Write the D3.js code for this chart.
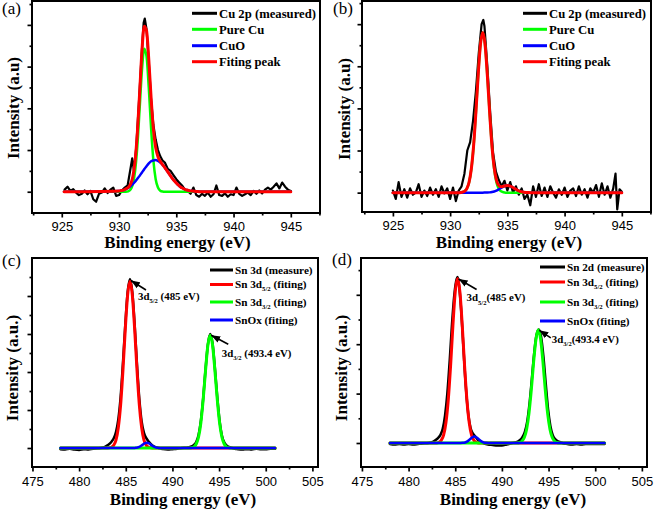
<!DOCTYPE html>
<html><head><meta charset="utf-8">
<script src="https://cdn.jsdelivr.net/npm/d3@7"></script>
<style>body{margin:0;background:#fff}svg{display:block}</style>
</head><body>
<svg id="chart" width="660" height="511"></svg>
<script>
// ---------------- DATA ----------------
const cuTicks = [925, 930, 935, 940, 945];
const cuMinorTicks = [922.5, 927.5, 932.5, 937.5, 942.5, 947.5];
const snTicks = [475, 480, 485, 490, 495, 500, 505];
const snMinorTicks = [477.5, 482.5, 487.5, 492.5, 497.5, 502.5];
const yMajor = [0, 1, 2, 3, 4];
const yMinor = [0.5, 1.5, 2.5, 3.5, 4.5];

const cuLegend = ["Cu 2p (measured)", "Pure Cu", "CuO", "Fiting peak"];
const snLegendC = ["Sn 3d (measure)", "Sn 3d|5/2| (fiting)", "Sn 3d|3/2| (fiting)", "SnOx (fiting)"];
const snLegendD = ["Sn 2d (measure)", "Sn 3d|5/2| (fiting)", "Sn 3d|3/2| (fiting)", "SnOx (fiting)"];

// Panel (a)
const aMeasured = [[925.25,0.05],[925.5,0.12],[925.75,0.02],[926.0,0.06],[926.25,-0.02],[926.5,-0.08],[926.75,-0.05],[927.0,0.03],[927.25,-0.06],[927.5,0.02],[927.75,-0.18],[928.0,-0.24],[928.25,-0.05],[928.5,-0.02],[928.75,0.08],[929.0,-0.03],[929.25,0.05],[929.5,0.10],[929.75,-0.10],[930.0,-0.08],[930.25,0.03],[930.5,0.10],[930.75,0.15],[931.0,0.55],[931.15,0.80],[931.3,0.50],[931.5,1.05],[931.75,2.20],[932.0,3.40],[932.15,4.05],[932.25,4.15],[932.4,3.90],[932.6,3.10],[932.8,2.20],[933.0,1.60],[933.2,1.25],[933.4,1.00],[933.6,0.85],[933.8,0.75],[934.0,0.70],[934.25,0.55],[934.5,0.50],[934.75,0.40],[935.0,0.30],[935.25,0.22],[935.5,0.15],[935.75,0.05],[936.0,0.02],[936.25,-0.05],[936.5,0.10],[936.75,-0.08],[937.0,-0.12],[937.25,-0.05],[937.5,-0.10],[937.75,-0.02],[938.0,-0.12],[938.25,-0.06],[938.5,0.15],[938.75,-0.08],[939.0,-0.10],[939.25,-0.04],[939.5,-0.12],[939.75,-0.06],[940.0,-0.08],[940.25,0.10],[940.5,-0.05],[940.75,-0.10],[941.0,-0.06],[941.25,-0.02],[941.5,-0.08],[941.75,0.02],[942.0,-0.05],[942.25,0.03],[942.5,-0.04],[942.75,0.05],[943.0,0.10],[943.25,0.05],[943.5,0.12],[943.75,0.20],[944.0,0.08],[944.25,0.22],[944.5,0.12],[944.75,0.05],[945.0,0.02]];
const aFitX = [925.2,930.0,930.2,930.4,930.6,930.8,931.0,931.2,931.4,931.6,931.8,932.0,932.2,932.4,932.6,932.8,933.0,933.2,933.4,933.6,933.8,934.0,934.2,934.4,934.6,934.8,935.0,935.2,935.4,935.6,935.8,936.0,936.2,936.4,936.6,936.8,937.0,945.0];
const aPureCu = [0,0,0,0,0,0.01,0.05,0.175,0.49,1.10,1.99,2.91,3.43,3.25,2.48,1.52,0.75,0.30,0.10,0.025,0.005,0,0,0,0,0,0,0,0,0,0,0,0,0,0,0,0,0];
const aCuO = [0,0.02,0.03,0.04,0.065,0.094,0.13,0.18,0.24,0.31,0.38,0.46,0.54,0.61,0.68,0.73,0.75,0.76,0.74,0.70,0.65,0.58,0.50,0.42,0.34,0.27,0.21,0.155,0.11,0.08,0.05,0.035,0.02,0.015,0.01,0.005,0,0];
const aFitPeak = [0,0.02,0.03,0.04,0.07,0.10,0.18,0.355,0.73,1.41,2.37,3.37,3.97,3.86,3.16,2.25,1.50,1.06,0.84,0.73,0.65,0.58,0.50,0.42,0.34,0.27,0.21,0.155,0.11,0.08,0.05,0.035,0.02,0.015,0.01,0.005,0,0];

// Panel (b)
const bMeasured = [[925.0,0.05],[925.25,-0.15],[925.5,0.25],[925.75,-0.10],[926.0,0.08],[926.25,-0.12],[926.5,0.10],[926.75,-0.05],[927.0,0.00],[927.25,0.20],[927.5,-0.10],[927.75,0.05],[928.0,-0.08],[928.25,0.12],[928.5,-0.05],[928.75,0.08],[929.0,-0.10],[929.25,0.15],[929.5,-0.02],[929.75,0.10],[930.0,-0.15],[930.25,0.12],[930.5,-0.20],[930.75,0.05],[931.0,0.15],[931.25,0.45],[931.5,1.00],[931.75,1.20],[932.0,1.70],[932.25,2.40],[932.5,3.30],[932.75,4.00],[932.9,4.10],[933.0,3.95],[933.25,3.00],[933.5,1.90],[933.75,0.95],[934.0,0.50],[934.25,0.30],[934.5,0.15],[934.75,0.28],[935.0,0.05],[935.25,0.25],[935.5,0.00],[935.75,0.15],[936.0,-0.05],[936.25,0.10],[936.5,-0.15],[936.75,-0.05],[937.0,-0.30],[937.25,0.15],[937.5,-0.10],[937.75,0.20],[938.0,-0.08],[938.25,0.12],[938.5,-0.10],[938.75,0.15],[939.0,0.00],[939.25,-0.12],[939.5,0.08],[939.75,-0.05],[940.0,0.12],[940.25,-0.10],[940.5,0.05],[940.75,0.10],[941.0,-0.08],[941.25,0.15],[941.5,-0.05],[941.75,0.08],[942.0,-0.12],[942.25,0.10],[942.5,0.00],[942.75,0.18],[943.0,-0.10],[943.25,0.22],[943.5,-0.05],[943.75,0.15],[944.0,-0.12],[944.25,0.10],[944.45,0.45],[944.6,-0.40],[944.8,0.08],[945.0,0.02]];
const bFitX = [925.0,930.45,930.65,930.85,931.05,931.25,931.45,931.65,931.85,932.05,932.25,932.45,932.65,932.85,933.05,933.25,933.45,933.65,933.85,934.05,934.25,934.45,934.65,934.85,935.05,935.25,935.45,935.65,935.85,936.05,936.25,936.45,936.65,936.85,937.05,945.0];
const bPureCu = [0,0,0,0,0.01,0.03,0.09,0.24,0.56,1.11,1.90,2.79,3.52,3.80,3.52,2.79,1.90,1.11,0.56,0.24,0.09,0.03,0.01,0,0,0,0,0,0,0,0,0,0,0,0,0];
const bCuO = [0,0,0,0,0,0,0,0,0,0,0,0,0,0,0.001,0.002,0.006,0.014,0.027,0.049,0.078,0.112,0.143,0.165,0.17,0.156,0.128,0.095,0.062,0.037,0.019,0.009,0.004,0.001,0,0];
const bFitPeak = [0,0,0,0,0.01,0.03,0.09,0.24,0.56,1.11,1.90,2.79,3.52,3.80,3.52,2.79,1.91,1.12,0.59,0.29,0.17,0.14,0.15,0.165,0.17,0.156,0.128,0.095,0.062,0.037,0.019,0.009,0.004,0.001,0,0];

// Panel (c)
const cMeasured = [[478.0,-0.03],[478.5,-0.04],[479.0,-0.02],[479.5,-0.04],[480.0,-0.05],[480.5,-0.03],[481.0,-0.04],[481.5,-0.02],[482.0,-0.01],[482.7,0.02],[482.95,0.06],[483.2,0.10],[483.45,0.16],[483.7,0.25],[483.95,0.42],[484.2,0.75],[484.45,1.35],[484.7,2.25],[484.95,3.25],[485.2,4.10],[485.45,4.45],[485.7,4.10],[485.95,3.25],[486.2,2.20],[486.45,1.30],[486.7,0.70],[486.95,0.40],[487.2,0.26],[487.45,0.17],[487.7,0.10],[487.95,0.05],[488.2,0.02],[488.6,0.0],[489.0,-0.03],[489.5,-0.04],[490.0,-0.03],[490.5,-0.02],[491.0,0.0],[491.55,0.01],[491.8,0.02],[492.05,0.04],[492.3,0.08],[492.55,0.16],[492.8,0.34],[493.05,0.72],[493.3,1.32],[493.55,2.08],[493.8,2.72],[494.05,3.00],[494.3,2.75],[494.55,2.10],[494.8,1.35],[495.05,0.72],[495.3,0.33],[495.55,0.15],[495.8,0.07],[496.05,0.03],[496.3,0.01],[496.7,-0.02],[497.0,-0.03],[497.5,-0.04],[498.0,-0.03],[498.5,-0.04],[499.0,-0.02],[499.5,-0.03],[500.0,-0.03],[500.5,-0.02],[501.0,-0.02]];
const cSn52 = [[478,0],[482.95,0],[483.2,0.005],[483.45,0.02],[483.7,0.07],[483.95,0.21],[484.2,0.54],[484.45,1.14],[484.7,2.06],[484.95,3.14],[485.2,4.03],[485.45,4.39],[485.7,4.03],[485.95,3.14],[486.2,2.06],[486.45,1.14],[486.7,0.54],[486.95,0.21],[487.2,0.07],[487.45,0.02],[487.7,0.005],[487.95,0],[501,0]];
const cSn32 = [[478,0],[491.8,0],[492.05,0.008],[492.3,0.03],[492.55,0.105],[492.8,0.29],[493.05,0.67],[493.3,1.29],[493.55,2.05],[493.8,2.71],[494.05,2.97],[494.3,2.71],[494.55,2.05],[494.8,1.29],[495.05,0.67],[495.3,0.29],[495.55,0.105],[495.8,0.03],[496.05,0.008],[496.3,0],[501,0]];
const cSnOx = [[478,0],[485.75,0],[486.0,0.003],[486.25,0.012],[486.5,0.035],[486.75,0.076],[487.0,0.12],[487.25,0.14],[487.5,0.12],[487.75,0.076],[488.0,0.035],[488.25,0.012],[488.5,0.003],[488.75,0],[501,0]];

// Panel (d)
const dMeasured = [[478.0,-0.02],[478.5,-0.03],[479.0,-0.02],[479.5,-0.03],[480.0,-0.02],[480.5,-0.03],[481.0,-0.02],[481.5,-0.01],[482.15,0.0],[482.65,0.03],[482.9,0.06],[483.15,0.10],[483.4,0.16],[483.65,0.28],[483.9,0.55],[484.15,1.00],[484.4,1.65],[484.65,2.40],[484.9,3.00],[485.15,3.32],[485.25,3.36],[485.4,3.20],[485.65,2.65],[485.9,1.85],[486.15,1.10],[486.4,0.58],[486.65,0.30],[486.9,0.19],[487.15,0.13],[487.4,0.07],[487.65,0.03],[488.1,-0.01],[488.5,-0.03],[489.0,-0.04],[489.5,-0.05],[490.0,-0.05],[490.5,-0.03],[491.1,0.0],[491.7,0.03],[491.95,0.06],[492.2,0.12],[492.45,0.22],[492.7,0.42],[492.95,0.78],[493.2,1.28],[493.45,1.80],[493.7,2.18],[493.95,2.30],[494.2,2.15],[494.45,1.75],[494.7,1.20],[494.95,0.68],[495.2,0.34],[495.45,0.16],[495.7,0.08],[495.95,0.04],[496.2,0.02],[496.6,-0.01],[497.0,-0.02],[497.5,-0.03],[498.0,-0.02],[498.5,-0.03],[499.0,-0.02],[499.5,-0.02],[500.0,-0.02],[500.5,-0.02],[501.0,-0.02]];
const dSn52 = [[478,0],[483.0,0],[483.25,0.015],[483.5,0.054],[483.75,0.16],[484.0,0.41],[484.25,0.87],[484.5,1.56],[484.75,2.38],[485.0,3.06],[485.25,3.33],[485.5,3.06],[485.75,2.38],[486.0,1.56],[486.25,0.87],[486.5,0.41],[486.75,0.16],[487.0,0.054],[487.25,0.015],[487.5,0],[501,0]];
const dSn32 = [[478,0],[491.65,0],[491.9,0.01],[492.15,0.037],[492.4,0.11],[492.65,0.28],[492.9,0.60],[493.15,1.075],[493.4,1.64],[493.65,2.10],[493.9,2.29],[494.15,2.10],[494.4,1.64],[494.65,1.075],[494.9,0.60],[495.15,0.28],[495.4,0.11],[495.65,0.037],[495.9,0.01],[496.15,0],[501,0]];
const dSnOx = [[478,0],[485.55,0],[485.8,0.003],[486.05,0.011],[486.3,0.0325],[486.55,0.07],[486.8,0.111],[487.05,0.13],[487.3,0.111],[487.55,0.07],[487.8,0.0325],[488.05,0.011],[488.3,0.003],[488.55,0],[501,0]];

// ---------------- DRAWING ----------------
const svg = d3.select('#chart');
const SERIF = '"Liberation Serif","Times New Roman",serif';
const SANS = '"Liberation Sans",Arial,sans-serif';
const RED = '#ff0000', GREEN = '#00ff00', BLUE = '#0000ff', BLACK = '#000000';

svg.append('defs').append('marker')
  .attr('id', 'arrow').attr('markerUnits', 'userSpaceOnUse')
  .attr('markerWidth', 10).attr('markerHeight', 8)
  .attr('refX', 9).attr('refY', 4).attr('orient', 'auto')
  .append('path').attr('d', 'M0,0.5 L9,4 L0,7.5 Z').attr('fill', '#000');

const zip = (xs, ys) => xs.map((v, i) => [v, ys[i]]);

function addRichText(g, x, y, str, size) {
  const parts = str.split('|');
  const t = g.append('text').attr('x', x).attr('y', y)
    .attr('font-family', SERIF).attr('font-weight', 'bold').attr('font-size', size);
  t.append('tspan').text(parts[0]);
  if (parts.length > 1) {
    t.append('tspan').attr('font-size', size * 0.6).attr('dy', size * 0.28).text(parts[1]);
    t.append('tspan').attr('dy', -size * 0.28).text(parts[2]);
  }
  return t;
}

// font size that makes `str` (bold serif) `target` px wide
function fitSize(str, base, target) {
  const t = addRichText(svg, -1000, -1000, str, base);
  const w = t.node().getComputedTextLength ? t.node().getBBox().width : target;
  t.remove();
  return w > 0 ? base * target / w : base;
}

const cuLegSize = fitSize(cuLegend[0], 13, 97);
const snLegSize = fitSize(snLegendC[0], 11, 78);
const noteSize = fitSize('3d|5/2| (485 eV)', 11, 62);

function drawPanel(p) {
  const g = svg.append('g');
  const x = d3.scaleLinear().domain(p.xDomain).range([p.left, p.right]);
  const y = d3.scaleLinear().domain(p.yDomain).range([p.bottom, p.top]);
  const inY = v => v > p.yDomain[0] && v < p.yDomain[1];
  const inX = v => v > p.xDomain[0] && v < p.xDomain[1];

  const clip = 'clip-' + p.id;
  g.append('clipPath').attr('id', clip).append('rect')
    .attr('x', p.left).attr('y', p.top).attr('width', p.right - p.left).attr('height', p.bottom - p.top);
  const plot = g.append('g').attr('clip-path', `url(#${clip})`);

  p.series.forEach(s => {
    const line = d3.line().x(d => x(d[0])).y(d => y(d[1]))
      .curve(s.smooth ? d3.curveMonotoneX : d3.curveLinear);
    plot.append('path').datum(s.data).attr('d', line)
      .attr('fill', 'none').attr('stroke', s.color).attr('stroke-width', s.width)
      .attr('stroke-linejoin', 'round').attr('stroke-linecap', 'round');
  });

  const xa = g.append('g').attr('transform', `translate(0,${p.bottom})`)
    .call(d3.axisBottom(x).tickValues(p.xTicks.filter(v => v >= p.xDomain[0] && v <= p.xDomain[1]))
      .tickSize(4.5).tickPadding(p.xPad).tickFormat(d3.format('d')));
  const xm = g.append('g').attr('transform', `translate(0,${p.bottom})`)
    .call(d3.axisBottom(x).tickValues(p.xMinor.filter(inX)).tickSize(2.5).tickFormat(''));
  const ya = g.append('g').attr('transform', `translate(${p.left},0)`)
    .call(d3.axisLeft(y).tickValues(yMajor.filter(inY)).tickSize(4.5).tickFormat(''));
  const ym = g.append('g').attr('transform', `translate(${p.left},0)`)
    .call(d3.axisLeft(y).tickValues(yMinor.filter(inY)).tickSize(2.5).tickFormat(''));
  [xa, xm, ya, ym].forEach(a => {
    a.select('.domain').remove();
    a.selectAll('line').attr('stroke', '#000').attr('stroke-width', 1.7);
  });
  xa.selectAll('text').attr('font-family', SANS).attr('font-size', 13).attr('fill', '#000');

  g.append('rect').attr('x', p.left).attr('y', p.top)
    .attr('width', p.right - p.left).attr('height', p.bottom - p.top)
    .attr('fill', 'none').attr('stroke', '#000').attr('stroke-width', 2);

  g.append('text').attr('x', (p.left + p.right) / 2 + p.xLabelDx).attr('y', p.xLabelY)
    .attr('text-anchor', 'middle').attr('font-family', SERIF).attr('font-weight', 'bold')
    .attr('font-size', 17).text('Binding energy (eV)');
  g.append('text').attr('transform', `translate(${p.yLabelX},${p.yLabelCy}) rotate(-90)`)
    .attr('text-anchor', 'middle').attr('font-family', SERIF).attr('font-weight', 'bold')
    .attr('font-size', 17).text(p.yLabel);

  g.append('text').attr('x', p.tagX).attr('y', p.tagY)
    .attr('font-family', SERIF).attr('font-size', 17).text(p.tag);

  p.legend.forEach((lab, i) => {
    const ly = p.legRows[i];
    g.append('line').attr('x1', p.legX1).attr('x2', p.legX2).attr('y1', ly).attr('y2', ly)
      .attr('stroke', p.legColors[i]).attr('stroke-width', 3);
    addRichText(g, p.legX2 + 2, ly + p.legSize * 0.34, lab, p.legSize);
  });

  (p.notes || []).forEach(n => {
    const tx = x(n.at[0]), ty = y(n.at[1]);
    g.append('line').attr('x1', tx + n.tail[0]).attr('y1', ty + n.tail[1])
      .attr('x2', tx + 1).attr('y2', ty + 0.5)
      .attr('stroke', '#000').attr('stroke-width', 1.6).attr('marker-end', 'url(#arrow)');
    addRichText(g, tx + n.text[0], ty + n.text[1], n.label, noteSize);
  });
}

const cuColors = [BLACK, GREEN, BLUE, RED];
const snColors = [BLACK, RED, GREEN, BLUE];

drawPanel({
  id: 'a', tag: '(a)', tagX: 2, tagY: 14,
  left: 32, right: 320, top: 1, bottom: 213,
  xDomain: [922.4, 947.55], yDomain: [-0.51, 4.573],
  xTicks: cuTicks, xMinor: cuMinorTicks, xPad: 4,
  xLabelY: 248, xLabelDx: 1.5, yLabel: 'Intensity (a.u)', yLabelX: 19, yLabelCy: 108,
  series: [
    {data: aMeasured, color: BLACK, width: 2.2, smooth: false},
    {data: zip(aFitX, aPureCu), color: GREEN, width: 2.5, smooth: true},
    {data: zip(aFitX, aCuO), color: BLUE, width: 2.5, smooth: true},
    {data: zip(aFitX, aFitPeak), color: RED, width: 3, smooth: true}
  ],
  legend: cuLegend, legColors: cuColors, legRows: [13.3, 29.3, 45.7, 61.7],
  legX1: 192, legX2: 217, legSize: cuLegSize
});

drawPanel({
  id: 'b', tag: '(b)', tagX: 333, tagY: 14,
  left: 362, right: 651, top: 1, bottom: 212,
  xDomain: [922.3, 947.55], yDomain: [-0.46, 4.55],
  xTicks: cuTicks, xMinor: cuMinorTicks, xPad: 4,
  xLabelY: 248, xLabelDx: 2.5, yLabel: 'Intensity (a.u)', yLabelX: 350, yLabelCy: 109,
  series: [
    {data: bMeasured, color: BLACK, width: 2.2, smooth: false},
    {data: zip(bFitX, bPureCu), color: GREEN, width: 2.5, smooth: true},
    {data: zip(bFitX, bCuO), color: BLUE, width: 2.5, smooth: true},
    {data: zip(bFitX, bFitPeak), color: RED, width: 3, smooth: true}
  ],
  legend: cuLegend, legColors: cuColors, legRows: [13.3, 29.3, 45.7, 61.7],
  legX1: 523, legX2: 547, legSize: cuLegSize
});

drawPanel({
  id: 'c', tag: '(c)', tagX: 2, tagY: 266,
  left: 32, right: 318, top: 258, bottom: 467,
  xDomain: [474.95, 505.6], yDomain: [-0.5, 5.0],
  xTicks: snTicks, xMinor: snMinorTicks, xPad: 5,
  xLabelY: 505, xLabelDx: 8, yLabel: 'Intensity (a.u.)', yLabelX: 18, yLabelCy: 368,
  series: [
    {data: cMeasured, color: BLACK, width: 2.5, smooth: true},
    {data: cSn52, color: RED, width: 3, smooth: true},
    {data: cSn32, color: GREEN, width: 3, smooth: true},
    {data: cSnOx, color: BLUE, width: 2.5, smooth: true}
  ],
  legend: snLegendC, legColors: snColors, legRows: [270, 284.5, 302, 320],
  legX1: 210, legX2: 233, legSize: snLegSize,
  notes: [
    {at: [485.45, 4.42], tail: [16, 10], text: [8, 20], label: '3d|5/2| (485 eV)'},
    {at: [494.05, 2.98], tail: [18, 9.5], text: [11.5, 22], label: '3d|3/2| (493.4 eV)'}
  ]
});

drawPanel({
  id: 'd', tag: '(d)', tagX: 332, tagY: 265,
  left: 361, right: 647, top: 258, bottom: 467,
  xDomain: [474.9, 505.55], yDomain: [-0.486, 3.745],
  xTicks: snTicks, xMinor: snMinorTicks, xPad: 5,
  xLabelY: 505, xLabelDx: 9, yLabel: 'Intensity (a.u.)', yLabelX: 347, yLabelCy: 368,
  series: [
    {data: dMeasured, color: BLACK, width: 2.5, smooth: true},
    {data: dSn52, color: RED, width: 3, smooth: true},
    {data: dSn32, color: GREEN, width: 3, smooth: true},
    {data: dSnOx, color: BLUE, width: 2.5, smooth: true}
  ],
  legend: snLegendD, legColors: snColors, legRows: [267, 282, 302, 321],
  legX1: 540, legX2: 565, legSize: snLegSize,
  notes: [
    {at: [485.25, 3.33], tail: [19, 11], text: [9, 23], label: '3d|5/2|(485 eV)'},
    {at: [493.9, 2.29], tail: [12.5, 8], text: [13.5, 13.5], label: '3d|3/2|(493.4 eV)'}
  ]
});
</script>
</body></html>
